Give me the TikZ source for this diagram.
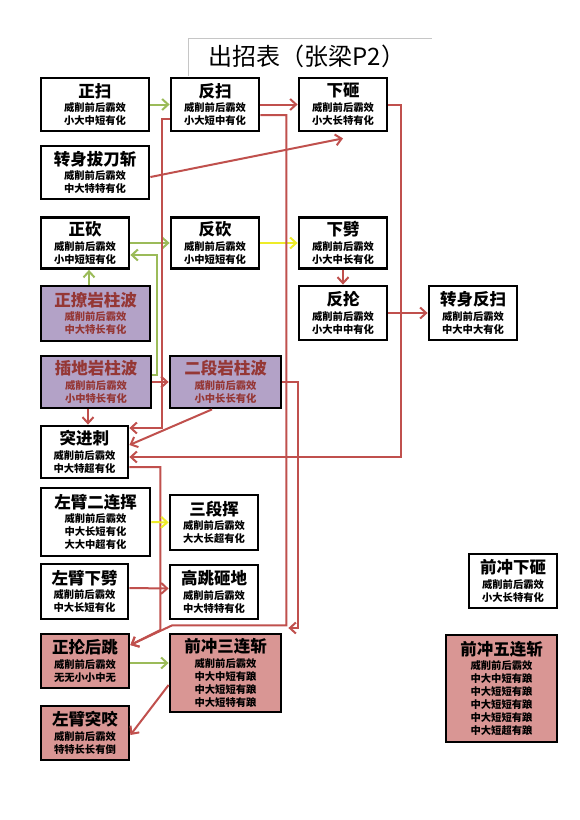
\documentclass[tikz,border=0pt]{standalone}
\usepackage{fontspec}
\setmainfont{Noto Sans CJK SC}
\usetikzlibrary{arrows.meta}
\definecolor{lred}{RGB}{192,80,77}
\definecolor{lgreen}{RGB}{155,187,89}
\definecolor{lyellow}{RGB}{238,236,40}
\definecolor{pfill}{RGB}{179,162,199}
\definecolor{ptext}{RGB}{149,55,53}
\definecolor{rfill}{RGB}{217,150,148}
\tikzset{
  box/.style={draw=black, line width=2.8pt, fill=white, align=center, inner sep=0pt,
     font=\fontsize{10.3}{13}\selectfont\bfseries},
  pbox/.style={box, fill=pfill, text=ptext},
  rbox/.style={box, fill=rfill},
  conn/.style={line width=2pt, -{Straight Barb[length=6pt,width=11pt]}},
  redc/.style={conn, draw=lred},
  grnc/.style={conn, draw=lgreen},
  ylwc/.style={conn, draw=lyellow},
}
\newcommand\ttl[1]{{\fontsize{16.5}{19}\selectfont #1}\\[1.5pt]}
\begin{document}
\begin{tikzpicture}[x=1pt,y=-1pt]
\fill[white] (0,0) rectangle (580,820);
\useasboundingbox (0,0) rectangle (580,820);
% title
\draw[gray!45, line width=0.8pt] (188,76) -- (188,38) -- (432,38);
\node[font=\fontsize{24}{28}\selectfont] (title) at (307,56) {出招表（张梁P2）};
% nodes
\node[box, minimum width=108pt, minimum height=53pt] (zs) at (95,104.5) {\ttl{正扫}威削前后霸效\\小大中短有化};
\node[box, minimum width=88pt, minimum height=53pt] (fs) at (215,104.5) {\ttl{反扫}威削前后霸效\\小大短中有化};
\node[box, minimum width=88pt, minimum height=53pt] (xz) at (343,104.5) {\ttl{下砸}威削前后霸效\\小大长特有化};
\node[box, minimum width=108pt, minimum height=53pt] (zsbd) at (95,172.5) {\ttl{转身拔刀斩}威削前后霸效\\中大特特有化};
\node[box, minimum width=88pt, minimum height=51pt] (zk) at (85,243) {\ttl{正砍}威削前后霸效\\小中短短有化};
\node[box, minimum width=88pt, minimum height=51pt] (fk) at (215,243) {\ttl{反砍}威削前后霸效\\小中短短有化};
\node[box, minimum width=88pt, minimum height=51pt] (xp) at (343,243) {\ttl{下劈}威削前后霸效\\小大中长有化};
\node[pbox, minimum width=109pt, minimum height=55pt] (zl) at (95.5,313.5) {\ttl{正撩岩柱波}威削前后霸效\\中大特长有化};
\node[box, minimum width=88pt, minimum height=54pt] (fl) at (343,313) {\ttl{反抡}威削前后霸效\\小大中中有化};
\node[box, minimum width=88pt, minimum height=54pt] (zsfs) at (473,313) {\ttl{转身反扫}威削前后霸效\\中大中大有化};
\node[pbox, minimum width=110pt, minimum height=52pt] (cd) at (96,382) {\ttl{插地岩柱波}威削前后霸效\\小中特长有化};
\node[pbox, minimum width=111pt, minimum height=52pt] (ed) at (225.5,382) {\ttl{二段岩柱波}威削前后霸效\\小中长长有化};
\node[box, minimum width=87pt, minimum height=52pt] (tj) at (84.5,452) {\ttl{突进刺}威削前后霸效\\中大特超有化};
\node[box, minimum width=109pt, minimum height=68pt] (zb2) at (95.5,522) {\ttl{左臂二连挥}威削前后霸效\\中大长短有化\\大大中超有化};
\node[box, minimum width=88pt, minimum height=55pt] (sd) at (214,522.5) {\ttl{三段挥}威削前后霸效\\大大长超有化};
\node[box, minimum width=87pt, minimum height=55pt] (zbx) at (84.5,591.5) {\ttl{左臂下劈}威削前后霸效\\中大长短有化};
\node[box, minimum width=88pt, minimum height=54pt] (gt) at (214,592) {\ttl{高跳砸地}威削前后霸效\\中大特特有化};
\node[rbox, minimum width=88pt, minimum height=54pt] (zlh) at (85,661) {\ttl{正抡后跳}威削前后霸效\\无无小小中无};
\node[rbox, minimum width=111pt, minimum height=78pt] (qc3) at (225.5,673) {\ttl{前冲三连斩}威削前后霸效\\中大中短有踉\\中大短短有踉\\中大短特有踉};
\node[rbox, minimum width=88pt, minimum height=54pt] (zbt) at (85,733) {\ttl{左臂突咬}威削前后霸效\\特特长长有倒};
\node[box, minimum width=88pt, minimum height=54pt] (qcx) at (513,581) {\ttl{前冲下砸}威削前后霸效\\小大长特有化};
\node[rbox, minimum width=111pt, minimum height=107pt] (qc5) at (501.5,688.5) {\ttl{前冲五连斩}威削前后霸效\\中大中短有踉\\中大短短有踉\\中大短短有踉\\中大短短有踉\\中大短超有踉};
% connectors
\draw[grnc] (zs.east) -- (fs.west);
\draw[redc] (fs.east) -- (xz.west);
\draw[redc] ([yshift=-4.5pt]zsbd.east) -- ([yshift=-6pt]xz.south);
\draw[grnc] (zk.east) -- (fk.west);
\draw[ylwc] (fk.east) -- (xp.west);
\draw[redc] (xp.south) -- (fl.north);
\draw[redc] (fl.east) -- (zsfs.west);
\draw[grnc] ([xshift=-6.5pt]zl.north) -- ([xshift=4pt]zk.south);
\draw[grnc] ([yshift=7pt]cd.east) -- ++(5,0) |- ([yshift=-12pt]zk.east);
\draw[redc] (cd.east) -- (ed.west);
\draw[redc] ([xshift=-8pt]cd.south) -- ([xshift=3.5pt]tj.north);
\draw[redc] ([xshift=-13.5pt]ed.south) -- ([yshift=7pt]tj.east);
\draw[redc] ([yshift=-14.5pt]fs.west) -- ++(-8,0) |- ([yshift=24pt]tj.east);
\draw[redc] (xz.east) -- ++(13,0) |- ([yshift=-5pt]tj.east);
\draw[redc] ([yshift=-10.5pt]fs.east) -- ++(26,0) |- ([xshift=-42pt,yshift=-5pt]gt.south) -- ([yshift=16pt]zlh.east);
\draw[redc] (ed.east) -- ++(16,0) -- ++(0,246) -- ++(-10,0);
\draw[redc] ([yshift=-15pt]tj.east) -- ++(31,0) -- ++(0,163) -- ([yshift=16pt]zlh.east);
\draw[ylwc] (zb2.east) -- (sd.west);
\draw[redc] ([yshift=3.5pt]zbx.east) -- ([yshift=3.5pt]gt.west);
\draw[grnc] ([yshift=-2pt]zlh.east) -- ([yshift=10pt]qc3.west);
\draw[redc] ([yshift=-12pt]qc3.west) -- ([yshift=-2pt]zbt.east);
\end{tikzpicture}
\end{document}
